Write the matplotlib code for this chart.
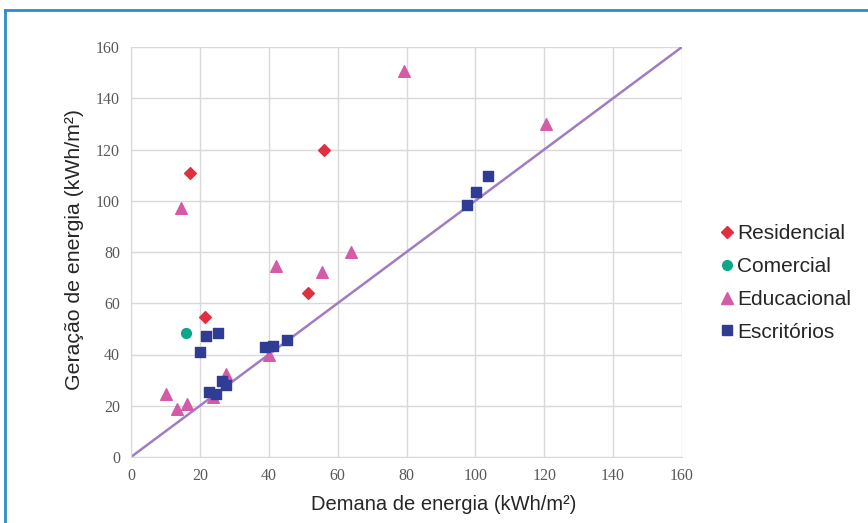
import matplotlib
matplotlib.use("Agg")
import matplotlib.pyplot as plt
from matplotlib.lines import Line2D

plt.rcParams['font.family'] = ['Liberation Sans', 'DejaVu Sans']

# data
res_x = [17.1, 56.0, 21.5, 51.4]
res_y = [110.8, 119.8, 54.6, 64.0]
com_x = [16.0]
com_y = [48.4]
edu_x = [14.5, 79.3, 120.5, 42.1, 55.5, 63.9, 40.1, 10.2, 13.4, 16.3, 23.7, 27.6]
edu_y = [97.2, 150.6, 130.0, 74.5, 72.2, 80.0, 39.8, 24.6, 18.7, 20.7, 23.5, 32.4]
esc_x = [21.8, 25.2, 20.0, 38.9, 41.1, 45.2, 22.6, 24.7, 26.3, 27.6, 97.7, 100.2, 103.8]
esc_y = [47.3, 48.5, 41.0, 43.1, 43.4, 45.7, 25.2, 24.6, 29.7, 28.0, 98.3, 103.5, 109.8]
ref_line = [0, 160]
ticks = [0, 20, 40, 60, 80, 100, 120, 140, 160]

c_res = '#e0303f'
c_com = '#0ea58a'
c_edu = '#d45ba6'
c_esc = '#2f3c96'
c_line = '#a07cc2'
c_txt = '#595959'

fig = plt.figure(figsize=(8.68, 5.23), dpi=100)
ax = fig.add_axes([131/868, 1-457/523, (682-131)/868, (457-47)/523])

ax.plot(ref_line, ref_line, color=c_line, lw=1.8, zorder=2)
ax.scatter(res_x, res_y, marker='D', s=36, color=c_res, zorder=3)
ax.scatter(com_x, com_y, marker='o', s=50, color=c_com, zorder=3)
ax.scatter(edu_x, edu_y, marker='^', s=70, color=c_edu, zorder=3)
ax.scatter(esc_x, esc_y, marker='s', s=60, color=c_esc, zorder=4)

ax.set_xlim(0, 160)
ax.set_ylim(0, 160)
ax.set_xticks(ticks)
ax.set_yticks(ticks)
ax.grid(True, color='#d9d9d9', lw=1)
ax.set_axisbelow(True)
for s in ['top', 'right']:
    ax.spines[s].set_visible(False)
for s in ['left', 'bottom']:
    ax.spines[s].set_color('#d9d9d9')
ax.tick_params(length=0, labelcolor=c_txt, pad=8)
for lab in ax.get_xticklabels() + ax.get_yticklabels():
    lab.set_fontfamily(['Liberation Serif', 'DejaVu Serif'])
    lab.set_fontsize(11.5)

fig.text(444/868, 1-505/523, 'Demana de energia (kWh/m²)', fontsize=14.5,
         color='#262626', ha='center', va='center')
fig.text(75/868, 1-249/523, 'Geração de energia (kWh/m²)', fontsize=15.3,
         color='#262626', ha='center', va='center', rotation=90)

handles = [
    Line2D([], [], ls='', marker='D', ms=6, color=c_res, label='Residencial'),
    Line2D([], [], ls='', marker='o', ms=7, color=c_com, label='Comercial'),
    Line2D([], [], ls='', marker='^', ms=8, color=c_edu, label='Educacional'),
    Line2D([], [], ls='', marker='s', ms=6.5, color=c_esc, label='Escritórios'),
]
fig.legend(handles=handles, loc='center left', bbox_to_anchor=(713/868, 1-283/523),
           frameon=False, fontsize=15, handlelength=0.5, handletextpad=0.25,
           labelspacing=0.66, labelcolor='#262626', borderaxespad=0)

# blue frame around the chart
fig.add_artist(Line2D([5/868, 5/868], [0, 1-10/523], color='#2b8dcc', lw=2))
fig.add_artist(Line2D([5/868, 1], [1-10/523, 1-10/523], color='#2b8dcc', lw=2))

fig.savefig('out.png', dpi=100)
